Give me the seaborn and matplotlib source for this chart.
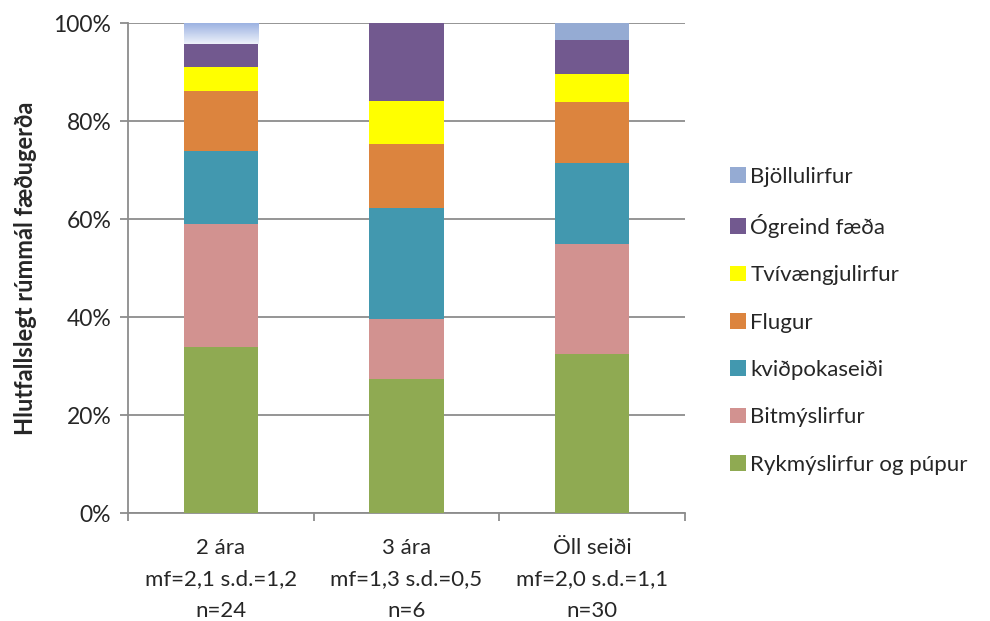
import matplotlib
matplotlib.use("Agg")
import matplotlib.pyplot as plt
import matplotlib.colors as mcolors
import seaborn as sns
import numpy as np
import pandas as pd
from matplotlib.patches import Patch
from matplotlib.ticker import FixedLocator, PercentFormatter

groups = ["2 ára\nmf=2,1 s.d.=1,2\nn=24",
          "3 ára\nmf=1,3 s.d.=0,5\nn=6",
          "Öll seiði\nmf=2,0 s.d.=1,1\nn=30"]

categories = ["Rykmýslirfur og púpur", "Bitmýslirfur", "kviðpokaseiði",
              "Flugur", "Tvívængjulirfur", "Ógreind fæða", "Bjöllulirfur"]

rykmy = [33.9, 27.3, 32.4]
bitmy = [25.1, 12.3, 22.5]
kvidpoka = [14.9, 22.7, 16.5]
flugur = [12.4, 13.1, 12.5]
tvivaengju = [4.9, 8.7, 5.8]
ogreind = [4.6, 15.9, 7.0]
bjollu = [4.2, 0.0, 3.3]

colors = ["#8FAA52", "#D29290", "#4298AF", "#DC843E", "#FFFF00", "#72598F", "#95ABD3"]

series = [rykmy, bitmy, kvidpoka, flugur, tvivaengju, ogreind, bjollu]
rows = []
for cat, vals in zip(categories, series):
    for g, v in zip(groups, vals):
        rows.append({"hópur": g, "fæða": cat, "hlutfall": v})
df = pd.DataFrame(rows)
df["uppsafnað"] = df.groupby("hópur")["hlutfall"].cumsum()

sns.set_theme(style="white")
plt.rcParams["font.family"] = ["Lato", "DejaVu Sans"]

fig = plt.figure(figsize=(9.9, 6.21), dpi=100)
ax = fig.add_axes([0.1293, 0.1739, 0.692 - 0.1293, 0.9622 - 0.1739])

# stacked bars: draw cumulative totals from the top segment down
for cat, col in reversed(list(zip(categories, colors))):
    sub = df[df["fæða"] == cat]
    sns.barplot(data=sub, x="hópur", y="uppsafnað", order=groups, color=col,
                width=0.40, saturation=1, ax=ax, zorder=3, edgecolor="none",
                linewidth=0)

# the top segment of the first bar fades from light blue to near white
first = ax.patches[0]
x0 = first.get_x()
x1 = x0 + first.get_width()
top = df[(df["hópur"] == groups[0]) & (df["fæða"] == categories[-1])]["uppsafnað"].iloc[0]
below = df[(df["hópur"] == groups[0]) & (df["fæða"] == categories[-2])]["uppsafnað"].iloc[0]
fade = mcolors.LinearSegmentedColormap.from_list("fade", ["#EEF2FA", "#9CB2E2"])
ax.imshow(np.linspace(0, 1, 64).reshape(-1, 1), cmap=fade, origin="lower",
          extent=(x0, x1, below, top), aspect="auto", zorder=3.5)

ax.set_xlim(-0.5, 2.5)
ax.set_ylim(0, 100)
ax.yaxis.set_major_locator(FixedLocator([0, 20, 40, 60, 80, 100]))
ax.yaxis.set_major_formatter(PercentFormatter(decimals=0))
ax.grid(axis="y", color="#8C8C8C", linewidth=1.3, zorder=0)
ax.grid(axis="x", visible=False)

for s in ["top", "right"]:
    ax.spines[s].set_visible(False)
for s in ["left", "bottom"]:
    ax.spines[s].set_color("#8C8C8C")
    ax.spines[s].set_linewidth(1.3)

ax.tick_params(axis="y", which="major", direction="out", length=6, width=1.3,
               color="#8C8C8C", labelsize=16.5, pad=6, left=True)
ax.tick_params(axis="x", which="major", length=0, labelsize=16, pad=18)
ax.set_xticks([0, 1, 2])
ax.set_xticklabels(groups, linespacing=1.72)
ax.xaxis.set_minor_locator(FixedLocator([-0.5, 0.5, 1.5, 2.5]))
ax.tick_params(axis="x", which="minor", direction="out", length=6, width=1.3,
               color="#8C8C8C", bottom=True)

ax.set_xlabel("")
ax.set_ylabel("Hlutfallslegt rúmmál fæðugerða", fontsize=17, fontweight="bold",
              labelpad=12)

handles = [Patch(facecolor=c, edgecolor="none") for c in colors]
leg = fig.legend(handles[::-1], categories[::-1], loc="upper left",
                 bbox_to_anchor=(0.717, 0.764), frameon=False, fontsize=16,
                 handlelength=0.72, handleheight=0.72, handletextpad=0.2,
                 labelspacing=1.23)

fig.savefig("out.png", dpi=100)
